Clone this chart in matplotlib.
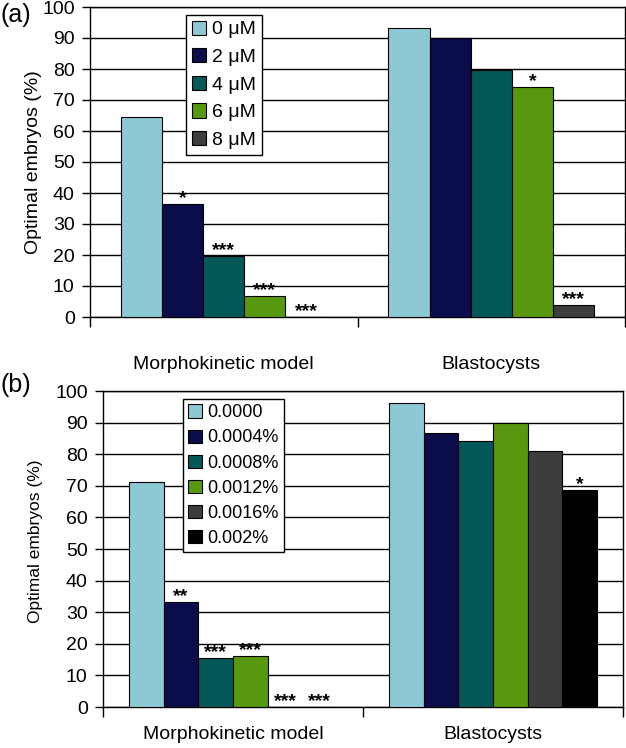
import numpy as np
import matplotlib
matplotlib.use('Agg')
import matplotlib.pyplot as plt

plt.rcParams['font.family'] = ['Liberation Sans', 'DejaVu Sans']

# categorieen en reeksen
categories = ['Morphokinetic model', 'Blastocysts']
colors = ['#8CC9D5', '#0B0C4A', '#055858', '#57980F', '#3D3D3D', '#000000']

# paneel (a)
labels_a = ['0 μM', '2 μM', '4 μM', '6 μM', '8 μM']
morpho_a = [64.4, 36.5, 19.8, 6.8, 0.0]
blasto_a = [93.3, 90.0, 79.8, 74.2, 3.8]
stars_morpho_a = ['', '*', '***', '***', '***']
stars_blasto_a = ['', '', '', '*', '***']

# paneel (b)
labels_b = ['0.0000', '0.0004%', '0.0008%', '0.0012%', '0.0016%', '0.002%']
morpho_b = [71.2, 33.3, 15.6, 16.1, 0.0, 0.0]
blasto_b = [96.3, 86.8, 84.3, 90.0, 81.1, 68.6]
stars_morpho_b = ['', '**', '***', '***', '***', '***']
stars_blasto_b = ['', '', '', '', '', '*']


def panel(ax, labels, morpho, blasto, stars_m, stars_b, legend_xy, xpad,
          label_xy, label_size, legend_size, legend_spacing):
    n = len(labels)
    w = 1.0 / (n + 1.5)  # excel gap width 150%
    centers = np.array([0.5, 1.5])
    for i in range(n):
        xs = centers + (i - (n - 1) / 2) * w
        vals = [morpho[i], blasto[i]]
        ax.bar(xs, vals, width=w, color=colors[i], edgecolor='black',
               linewidth=0.8, label=labels[i], zorder=3)
        for x, v, s in zip(xs, vals, [stars_m[i], stars_b[i]]):
            if s:
                ax.annotate(s, (x, v), xytext=(0, 0.5), textcoords='offset points',
                            ha='center', va='baseline', fontsize=14,
                            fontweight='bold', zorder=4)
    ax.set_xlim(0, 2)
    ax.set_ylim(0, 100)
    ax.set_yticks(np.arange(0, 101, 10))
    ax.yaxis.grid(True, color='black', linewidth=1)
    ax.set_axisbelow(True)
    ax.set_xticks(centers)
    ax.set_xticklabels(categories, fontsize=14)
    ax.set_xticks([0, 1, 2], minor=True)
    ax.tick_params(axis='x', which='major', length=0, pad=xpad)
    ax.tick_params(axis='x', which='minor', length=7, width=1, direction='out')
    ax.tick_params(axis='y', length=6, width=1, direction='out', labelsize=14, pad=5)
    for sp in ax.spines.values():
        sp.set_linewidth(1)
        sp.set_color('black')
    ax.set_ylabel('Optimal embryos (%)', fontsize=label_size)
    ax.yaxis.set_label_coords(*label_xy)
    leg = ax.legend(loc='upper left', bbox_to_anchor=legend_xy, fontsize=legend_size,
                    handlelength=0.75, handleheight=0.75, handletextpad=0.3,
                    labelspacing=legend_spacing, borderpad=0.3, borderaxespad=0,
                    fancybox=False, framealpha=1, edgecolor='black')
    leg.get_frame().set_linewidth(1)
    leg.set_zorder(5)


fig = plt.figure(figsize=(6.26, 7.48), dpi=100)
ax_a = fig.add_axes([90 / 626, 1 - 317 / 748, 535 / 626, 310 / 748])
ax_b = fig.add_axes([103 / 626, 1 - 707 / 748, 520 / 626, 316 / 748])

panel(ax_a, labels_a, morpho_a, blasto_a, stars_morpho_a, stars_blasto_a,
      (0.179, 0.975), 28, (-0.09, 0.5), 14, 14, 0.5)
panel(ax_b, labels_b, morpho_b, blasto_b, stars_morpho_b, stars_blasto_b,
      (0.154, 0.975), 14, (-0.115, 0.525), 12.5, 13, 0.45)

fig.text(0.0, 1 - 15 / 748, '(a)', fontsize=18, ha='left', va='center')
fig.text(0.0, 1 - 385 / 748, '(b)', fontsize=18, ha='left', va='center')

fig.savefig('out.png', dpi=100)
